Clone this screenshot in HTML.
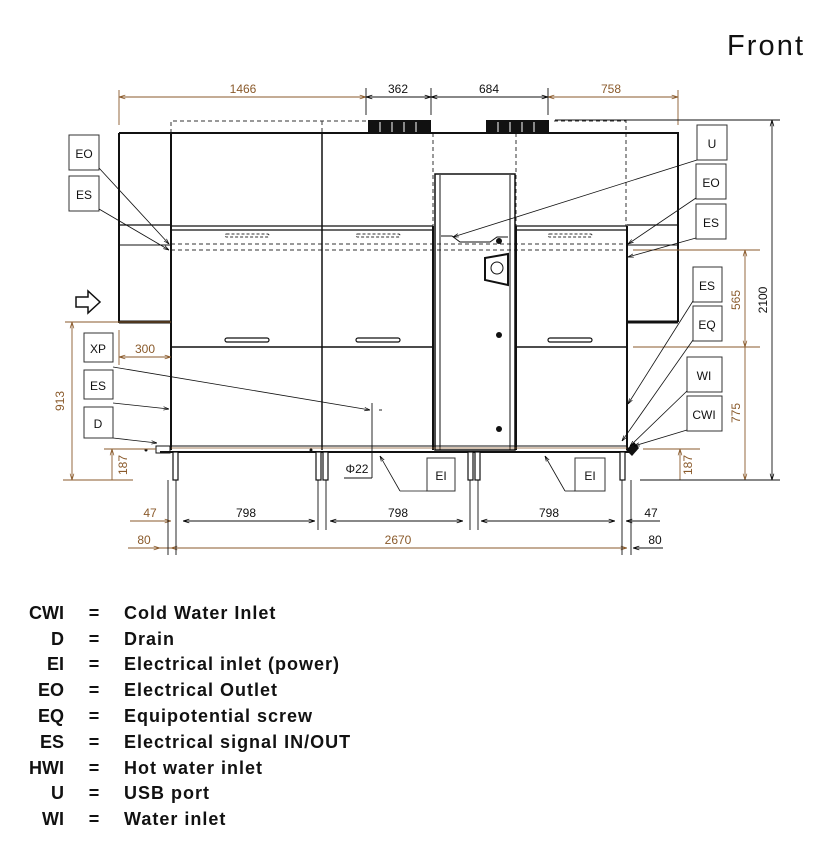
<!DOCTYPE html>
<html><head><meta charset="utf-8"><style>
html,body{margin:0;padding:0;background:#fff;}
svg{display:block;}
.t{font-family:"Liberation Sans",sans-serif;}
</style></head><body>
<svg width="813" height="843" viewBox="0 0 813 843" xmlns="http://www.w3.org/2000/svg">
<defs>
<marker id="ab" viewBox="0 0 10 10" refX="10" refY="5" markerWidth="7" markerHeight="7" orient="auto-start-reverse"><path d="M0,2 L10,5 L0,8" fill="none" stroke="#000" stroke-width="1.2"/></marker>
<marker id="ao" viewBox="0 0 10 10" refX="10" refY="5" markerWidth="7" markerHeight="7" orient="auto-start-reverse"><path d="M0,2 L10,5 L0,8" fill="none" stroke="#8a5a2b" stroke-width="1.2"/></marker>
</defs>
<text x="727" y="55" class="t" font-size="29" fill="#111" textLength="76">Front</text>

<g fill="none" stroke="#333" stroke-width="1" stroke-dasharray="4,3">
<path d="M171,133 V121 H366"/>
<path d="M554,121 H626 V226"/>
<line x1="322" y1="121" x2="322" y2="133"/>
<line x1="433" y1="133" x2="433" y2="226"/>
<line x1="516" y1="133" x2="516" y2="226"/>
<line x1="171" y1="244" x2="627" y2="244"/>
<line x1="171" y1="250" x2="627" y2="250"/>
</g>
<rect x="368" y="120" width="63" height="13" fill="#111"/>
<rect x="486" y="120" width="63" height="13" fill="#111"/>
<g stroke="#fff" stroke-width="1"><line x1="380" y1="122" x2="380" y2="132"/><line x1="392" y1="122" x2="392" y2="132"/><line x1="404" y1="122" x2="404" y2="132"/><line x1="416" y1="122" x2="416" y2="132"/>
<line x1="498" y1="122" x2="498" y2="132"/><line x1="510" y1="122" x2="510" y2="132"/><line x1="522" y1="122" x2="522" y2="132"/><line x1="534" y1="122" x2="534" y2="132"/></g>

<g fill="none" stroke="#111">
<path d="M119,133 H678 V322" stroke-width="2"/>
<path d="M119,133 V322 H171" stroke-width="2"/>
<line x1="119" y1="322" x2="171" y2="322" stroke-width="3"/>
<line x1="627" y1="322" x2="678" y2="322" stroke-width="3"/>
<line x1="119" y1="225" x2="171" y2="225" stroke-width="1.3"/>
<line x1="119" y1="245" x2="171" y2="245" stroke-width="1"/>
<line x1="627" y1="225" x2="678" y2="225" stroke-width="1.3"/>
<line x1="627" y1="245" x2="678" y2="245" stroke-width="1"/>
<line x1="171" y1="133" x2="171" y2="450" stroke-width="2"/>
<line x1="322" y1="133" x2="322" y2="450" stroke-width="1.5"/>
<line x1="627" y1="226" x2="627" y2="450" stroke-width="2"/>
<line x1="171" y1="226" x2="433" y2="226" stroke-width="1.3"/>
<line x1="171" y1="230" x2="433" y2="230" stroke-width="1.3"/>
<line x1="516" y1="226" x2="627" y2="226" stroke-width="1.3"/>
<line x1="516" y1="230" x2="627" y2="230" stroke-width="1.3"/>
<line x1="171" y1="347" x2="433" y2="347" stroke-width="1.5"/>
<line x1="516" y1="347" x2="627" y2="347" stroke-width="1.5"/>
<line x1="433" y1="226" x2="433" y2="450" stroke-width="2"/>
<line x1="516" y1="226" x2="516" y2="450" stroke-width="2"/>
<rect x="435" y="174" width="80" height="276" stroke-width="1.5"/>
<line x1="440" y1="175" x2="440" y2="450" stroke-width="1"/>
<line x1="510" y1="175" x2="510" y2="450" stroke-width="1"/>
<path d="M441,236 H452 L460,242 H490 L497,237 H508" stroke-width="1"/>
<path d="M485,258 L508,254 V285 L485,280 Z" stroke-width="2"/>
<circle cx="497" cy="268" r="6" stroke-width="1"/>
<line x1="160" y1="446" x2="627" y2="446" stroke-width="1"/>
<line x1="160" y1="452" x2="630" y2="452" stroke-width="2"/>
<rect x="156" y="446" width="14" height="7" stroke-width="1"/>
</g>
<line x1="171" y1="448" x2="627" y2="448" stroke="#8a5a2b" stroke-width="0.8"/>
<circle cx="499" cy="241" r="3" fill="#111"/>
<circle cx="499" cy="335" r="3" fill="#111"/>
<circle cx="499" cy="429" r="3" fill="#111"/>
<circle cx="146" cy="450" r="1.5" fill="#111"/>
<circle cx="311" cy="450" r="1.5" fill="#111"/>
<g fill="#fff" stroke="#111" stroke-width="1.2">
<rect x="225" y="338" width="44" height="4" rx="2"/>
<rect x="356" y="338" width="44" height="4" rx="2"/>
<rect x="548" y="338" width="44" height="4" rx="2"/>
</g>
<g fill="none" stroke="#333" stroke-width="1" stroke-dasharray="3,2">
<rect x="225" y="234" width="44" height="3" rx="1.5"/>
<rect x="356" y="234" width="44" height="3" rx="1.5"/>
<rect x="548" y="234" width="44" height="3" rx="1.5"/>
</g>
<g fill="#fff" stroke="#111" stroke-width="1.2">
<rect x="173" y="452" width="5" height="28"/>
<rect x="316" y="452" width="5" height="28"/><rect x="323" y="452" width="5" height="28"/>
<rect x="468" y="452" width="5" height="28"/><rect x="475" y="452" width="5" height="28"/>
<rect x="620" y="452" width="5" height="28"/>
</g>
<path d="M626,450 l8,-8 l5,6 l-7,8z" fill="#111"/>
<path d="M76,297 H88 V291 L100,302 L88,313 V307 H76 Z" fill="#fff" stroke="#111" stroke-width="1.5"/>

<g stroke="#8a5a2b" stroke-width="0.9" fill="none">
<line x1="119" y1="90" x2="119" y2="125"/>
<line x1="119" y1="97" x2="366" y2="97" marker-start="url(#ao)" marker-end="url(#ao)"/>
<line x1="678" y1="90" x2="678" y2="125"/>
<line x1="548" y1="97" x2="678" y2="97" marker-start="url(#ao)" marker-end="url(#ao)"/>
<line x1="65" y1="322" x2="171" y2="322"/>
<line x1="72" y1="322" x2="72" y2="480" marker-start="url(#ao)" marker-end="url(#ao)"/>
<line x1="63" y1="480" x2="133" y2="480"/>
<line x1="112" y1="449" x2="112" y2="480" marker-start="url(#ao)"/>
<line x1="104" y1="449" x2="156" y2="449"/>
<line x1="119" y1="357" x2="171" y2="357" marker-start="url(#ao)" marker-end="url(#ao)"/>
<line x1="119" y1="330" x2="119" y2="365"/>
<line x1="633" y1="250" x2="760" y2="250"/>
<line x1="633" y1="347" x2="760" y2="347"/>
<line x1="745" y1="250" x2="745" y2="347" marker-start="url(#ao)" marker-end="url(#ao)"/>
<line x1="745" y1="347" x2="745" y2="480" marker-end="url(#ao)"/>
<line x1="643" y1="449" x2="700" y2="449"/>
<line x1="680" y1="449" x2="680" y2="480" marker-start="url(#ao)"/>
<line x1="130" y1="521" x2="171" y2="521" marker-end="url(#ao)"/>
<line x1="130" y1="548" x2="171" y2="548"/>
<line x1="171" y1="548" x2="627" y2="548" marker-start="url(#ao)" marker-end="url(#ao)"/>
<line x1="128" y1="548" x2="160" y2="548" marker-end="url(#ao)"/>
</g>
<g stroke="#111" stroke-width="0.9" fill="none">
<line x1="366" y1="88" x2="366" y2="115"/><line x1="431" y1="88" x2="431" y2="115"/><line x1="548" y1="88" x2="548" y2="115"/>
<line x1="366" y1="97" x2="431" y2="97" marker-start="url(#ab)" marker-end="url(#ab)"/>
<line x1="431" y1="97" x2="548" y2="97" marker-start="url(#ab)" marker-end="url(#ab)"/>
<line x1="555" y1="120" x2="780" y2="120"/>
<line x1="772" y1="120" x2="772" y2="480" marker-start="url(#ab)" marker-end="url(#ab)"/>
<line x1="640" y1="480" x2="780" y2="480"/>
<line x1="176" y1="480" x2="176" y2="555"/>
<line x1="168" y1="480" x2="168" y2="555"/>
<line x1="318" y1="480" x2="318" y2="530"/><line x1="326" y1="480" x2="326" y2="530"/>
<line x1="470" y1="480" x2="470" y2="530"/><line x1="478" y1="480" x2="478" y2="530"/>
<line x1="622" y1="480" x2="622" y2="555"/><line x1="631" y1="480" x2="631" y2="555"/>
<line x1="183" y1="521" x2="315" y2="521" marker-start="url(#ab)" marker-end="url(#ab)"/>
<line x1="330" y1="521" x2="463" y2="521" marker-start="url(#ab)" marker-end="url(#ab)"/>
<line x1="481" y1="521" x2="615" y2="521" marker-start="url(#ab)" marker-end="url(#ab)"/>
<line x1="660" y1="521" x2="626" y2="521" marker-end="url(#ab)"/>
<line x1="663" y1="548" x2="633" y2="548" marker-end="url(#ab)"/>
<line x1="372" y1="403" x2="372" y2="478"/>
<line x1="344" y1="478" x2="372" y2="478"/>
<line x1="379" y1="410" x2="382" y2="410"/>
</g>
<g class="t" font-size="12" fill="#8a5a2b" text-anchor="middle">
<text x="243" y="93">1466</text><text x="611" y="93">758</text><text x="145" y="353">300</text>
<text x="64" y="401" transform="rotate(-90 64 401)">913</text>
<text x="127" y="465" transform="rotate(-90 127 465)">187</text>
<text x="740" y="300" transform="rotate(-90 740 300)">565</text>
<text x="740" y="413" transform="rotate(-90 740 413)">775</text>
<text x="692" y="465" transform="rotate(-90 692 465)">187</text>
<text x="150" y="517">47</text><text x="144" y="544">80</text><text x="398" y="544">2670</text>
</g>
<g class="t" font-size="12" fill="#111" text-anchor="middle">
<text x="398" y="93">362</text><text x="489" y="93">684</text>
<text x="767" y="300" transform="rotate(-90 767 300)">2100</text>
<text x="246" y="517">798</text><text x="398" y="517">798</text><text x="549" y="517">798</text>
<text x="651" y="517">47</text><text x="655" y="544">80</text>
<text x="357" y="473">Φ22</text>
</g>

<g fill="#fff" stroke="#333" stroke-width="1">
<rect x="69" y="135" width="30" height="35"/><rect x="69" y="176" width="30" height="35"/>
<rect x="84" y="333" width="29" height="29"/><rect x="84" y="370" width="29" height="29"/><rect x="84" y="407" width="29" height="31"/>
<rect x="697" y="125" width="30" height="35"/><rect x="696" y="164" width="30" height="35"/><rect x="696" y="204" width="30" height="35"/>
<rect x="693" y="267" width="29" height="35"/><rect x="693" y="306" width="29" height="35"/>
<rect x="687" y="357" width="35" height="35"/><rect x="687" y="396" width="35" height="35"/>
<rect x="427" y="458" width="28" height="33"/><rect x="575" y="458" width="30" height="33"/>
</g>
<g class="t" font-size="12" fill="#111" text-anchor="middle">
<text x="84" y="158">EO</text><text x="84" y="199">ES</text>
<text x="98" y="353">XP</text><text x="98" y="390">ES</text><text x="98" y="428">D</text>
<text x="712" y="148">U</text><text x="711" y="187">EO</text><text x="711" y="227">ES</text>
<text x="707" y="290">ES</text><text x="707" y="329">EQ</text>
<text x="704" y="380">WI</text><text x="704" y="419">CWI</text>
<text x="441" y="480">EI</text><text x="590" y="480">EI</text>
</g>
<g stroke="#111" stroke-width="0.8" fill="none">
<line x1="99" y1="168" x2="169" y2="244" marker-end="url(#ab)"/>
<line x1="99" y1="209" x2="169" y2="250" marker-end="url(#ab)"/>
<line x1="113" y1="367" x2="370" y2="410" marker-end="url(#ab)"/>
<line x1="113" y1="403" x2="169" y2="409" marker-end="url(#ab)"/>
<line x1="113" y1="438" x2="157" y2="443" marker-end="url(#ab)"/>
<line x1="697" y1="160" x2="453" y2="237" marker-end="url(#ab)"/>
<line x1="696" y1="198" x2="628" y2="244" marker-end="url(#ab)"/>
<line x1="696" y1="238" x2="628" y2="257" marker-end="url(#ab)"/>
<line x1="693" y1="301" x2="628" y2="404" marker-end="url(#ab)"/>
<line x1="693" y1="340" x2="622" y2="441" marker-end="url(#ab)"/>
<line x1="687" y1="391" x2="630" y2="446" marker-end="url(#ab)"/>
<line x1="687" y1="430" x2="634" y2="446" marker-end="url(#ab)"/>
<line x1="427" y1="491" x2="400" y2="491"/><line x1="400" y1="491" x2="380" y2="456" marker-end="url(#ab)"/>
<line x1="575" y1="491" x2="565" y2="491"/><line x1="565" y1="491" x2="545" y2="456" marker-end="url(#ab)"/>
</g>

<g class="t" font-size="18" font-weight="bold" fill="#111">
<g text-anchor="end">
<text x="64" y="619">CWI</text><text x="64" y="645">D</text><text x="64" y="670">EI</text><text x="64" y="696">EO</text><text x="64" y="722">EQ</text><text x="64" y="748">ES</text><text x="64" y="774">HWI</text><text x="64" y="799">U</text><text x="64" y="825">WI</text>
</g>
<g text-anchor="middle">
<text x="94" y="619">=</text><text x="94" y="645">=</text><text x="94" y="670">=</text><text x="94" y="696">=</text><text x="94" y="722">=</text><text x="94" y="748">=</text><text x="94" y="774">=</text><text x="94" y="799">=</text><text x="94" y="825">=</text>
</g>
<g letter-spacing="1">
<text x="124" y="619">Cold Water Inlet</text><text x="124" y="645">Drain</text><text x="124" y="670">Electrical inlet (power)</text><text x="124" y="696">Electrical Outlet</text><text x="124" y="722">Equipotential screw</text><text x="124" y="748">Electrical signal IN/OUT</text><text x="124" y="774">Hot water inlet</text><text x="124" y="799">USB port</text><text x="124" y="825">Water inlet</text>
</g>
</g>
</svg>
</body></html>
